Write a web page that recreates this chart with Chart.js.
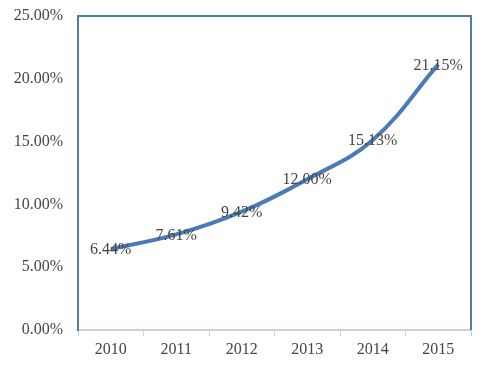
<!DOCTYPE html>
<html>
<head>
<meta charset="utf-8">
<script src="https://cdn.jsdelivr.net/npm/chart.js@4/dist/chart.umd.min.js"></script>
<style>
  html, body { margin: 0; padding: 0; background: #fff; }
  #wrap { width: 488px; height: 372px; }
</style>
</head>
<body>
<div id="wrap"><canvas id="chart" width="488" height="372"></canvas></div>
<script>
const years = ["2010", "2011", "2012", "2013", "2014", "2015"];
const growth = [6.44, 7.61, 9.42, 12.00, 15.13, 21.15];
const yMax = 25;
const yStep = 5;

const textColor = "#454545";
const lineColor = "#4A7AB8";
const boxColor = "#5479AE";

// data labels centred on each point
const pointLabels = {
    id: "pointLabels",
    afterDatasetsDraw(chart) {
        const ctx = chart.ctx;
        const meta = chart.getDatasetMeta(0);
        ctx.save();
        ctx.font = "16px 'Liberation Serif'";
        ctx.fillStyle = textColor;
        ctx.textAlign = "center";
        ctx.textBaseline = "middle";
        meta.data.forEach((pt, i) => {
            ctx.fillText(growth[i].toFixed(2) + "%", pt.x, pt.y + 1);
        });
        ctx.restore();
    }
};

// top and right sides of the plot box
const plotBox = {
    id: "plotBox",
    afterDraw(chart) {
        const { ctx, chartArea: a } = chart;
        ctx.save();
        ctx.strokeStyle = boxColor;
        ctx.lineWidth = 2;
        ctx.beginPath();
        ctx.moveTo(a.left, a.top);
        ctx.lineTo(a.right, a.top);
        ctx.lineTo(a.right, a.bottom);
        ctx.stroke();
        ctx.restore();
    }
};

new Chart(document.getElementById("chart"), {
    type: "line",
    data: {
        labels: years,
        datasets: [{
            data: growth,
            borderColor: lineColor,
            borderWidth: 4,
            tension: 0.4,
            pointRadius: 0,
            fill: false
        }]
    },
    options: {
        responsive: false,
        animation: false,
        layout: { padding: { top: 16, right: 17, left: 0, bottom: 0 } },
        plugins: { legend: { display: false }, tooltip: { enabled: false } },
        scales: {
            x: {
                offset: true,
                grid: { offset: true, drawOnChartArea: false, color: "#C5D2E6", tickLength: 6 },
                border: { color: "#C5D2E6", width: 2 },
                ticks: { color: textColor, font: { family: "'Liberation Serif'", size: 16 }, padding: 4 },
                afterFit(scale) { scale.height = 42; scale.paddingLeft = 0; scale.paddingRight = 0; }
            },
            y: {
                min: 0,
                max: yMax,
                grid: { display: false, drawTicks: false },
                border: { color: boxColor, width: 2 },
                ticks: {
                    stepSize: yStep,
                    color: textColor,
                    font: { family: "'Liberation Serif'", size: 16 },
                    padding: 15,
                    callback: v => v.toFixed(2) + "%"
                },
                afterFit(scale) { scale.width = 78; scale.paddingTop = 0; scale.paddingBottom = 0; }
            }
        }
    },
    plugins: [pointLabels, plotBox]
});
</script>
</body>
</html>
